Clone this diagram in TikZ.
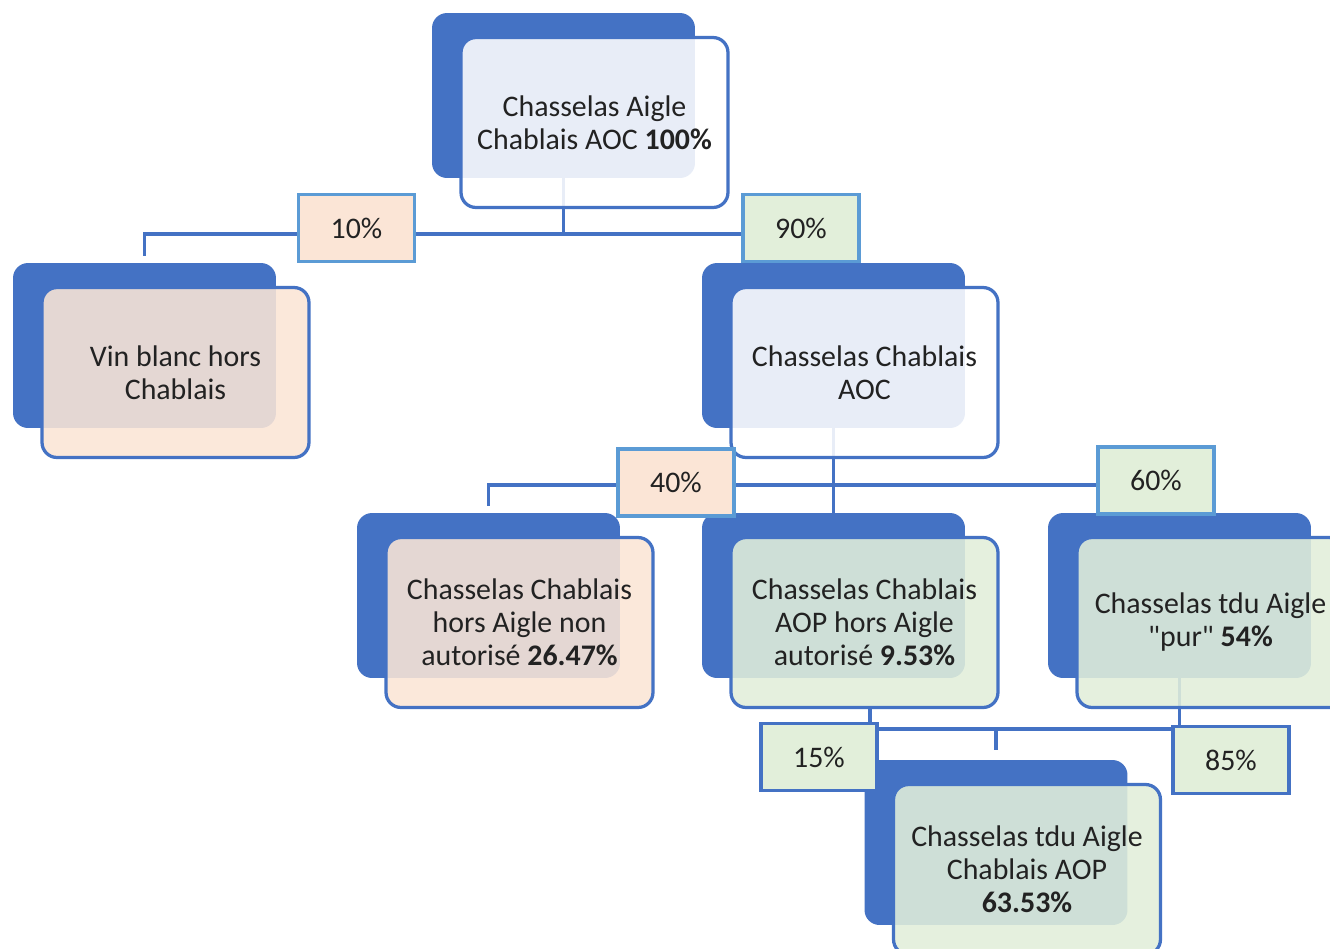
\documentclass[tikz,border=0pt]{standalone}
\usepackage{fontspec}
\setmainfont{Carlito}
\newfontfamily\plainq{Carlito}[Ligatures=ResetAll]
\usetikzlibrary{calc}
\definecolor{sablue}{HTML}{4472C4}
\definecolor{lblue}{HTML}{5B9BD5}
\definecolor{peach}{HTML}{FBE5D6}
\definecolor{lgreen}{HTML}{E2EFDA}
\definecolor{txt}{HTML}{222222}
\begin{document}
\begin{tikzpicture}[x=0.02cm,y=-0.02cm,
  backbox/.style={fill=sablue, rounded corners=0.3cm, minimum width=5.26cm, minimum height=3.3cm, inner sep=0pt},
  frontbox/.style={draw=sablue, line width=0.065cm, rounded corners=0.3cm, minimum width=5.34cm, minimum height=3.4cm,
    fill opacity=0.88, text opacity=1, align=center, text=txt, font=\fontsize{17}{18.8}\selectfont, inner sep=2pt},
  pct/.style={draw=lblue, line width=0.07cm, minimum width=2.32cm, minimum height=1.34cm, text=txt,
    font=\fontsize{17}{18.8}\selectfont, inner sep=0pt},
  pctdark/.style={pct, draw=sablue},
  link/.style={draw=sablue, line width=0.07cm},
]
\clip (0,0) rectangle (1330,948);
\fill[white] (0,0) rectangle (1330,948);

% back boxes
\node[backbox] (A) at (563.5,95.5) {};
\node[backbox] (B) at (144.5,345.5) {};
\node[backbox] (C) at (833.5,345.5) {};
\node[backbox] (D) at (488.5,595.5) {};
\node[backbox] (E) at (833.5,595.5) {};
\node[backbox] (F) at (1179.5,595.5) {};
\node[backbox] (G) at (996,842.5) {};

% connectors
\coordinate (j1) at (563.5,234);
\draw[link] (A.south) -- (j1);
\draw[link, shorten >=0.14cm] (j1) -| (B.north);
\draw[link] (j1) -| (C.north);

\coordinate (j2) at (833.5,485);
\draw[link] (C.south) -- (E.north);
\draw[link, shorten >=0.14cm] (j2) -| (D.north);
\draw[link, shorten >=0.14cm] (j2) -| (F.north);

% front boxes
\node[frontbox, fill=white] (Af) at ($(A)+(31,27)$) {Chasselas Aigle\\Chablais AOC \textbf{100\%}};
\node[frontbox, fill=peach] (Bf) at ($(B)+(31,27)$) {Vin blanc hors\\Chablais};
\node[frontbox, fill=white] (Cf) at ($(C)+(31,27)$) {Chasselas Chablais\\AOC};
\node[frontbox, fill=peach] (Df) at ($(D)+(31,27)$) {Chasselas Chablais\\hors Aigle non\\autorisé \textbf{26.47\%}};
\coordinate (j3) at (996,729);
\draw[link] (F.south) |- (j3);
\node[frontbox, fill=lgreen] (Ef) at ($(E)+(31,27)$) {Chasselas Chablais\\AOP hors Aigle\\autorisé \textbf{9.53\%}};
\node[frontbox, fill=lgreen] (Ff) at ($(F)+(31,27)$) {Chasselas tdu Aigle\\{\plainq"pur"} \textbf{54\%}};
\draw[link] ($(Ef.south)+(5.5,0)$) |- (j3);
\draw[link, shorten >=0.2cm] (j3) -- (G.north);
\node[frontbox, fill=lgreen] (Gf) at ($(G)+(31,27)$) {Chasselas tdu Aigle\\Chablais AOP\\\textbf{63.53\%}};

% percentage labels
\node[pct, fill=peach] (p10) at (356.5,228) {10\%};
\node[pct, fill=lgreen] (p90) at (801,228) {90\%};
\node[pct, fill=peach] (p40) at (676,482.5) {40\%};
\node[pct, fill=lgreen] (p60) at (1156,480.5) {60\%};
\node[pctdark, fill=lgreen] (p15) at (819,757) {15\%};
\node[pctdark, fill=lgreen] (p85) at (1231,760) {85\%};
\end{tikzpicture}
\end{document}
